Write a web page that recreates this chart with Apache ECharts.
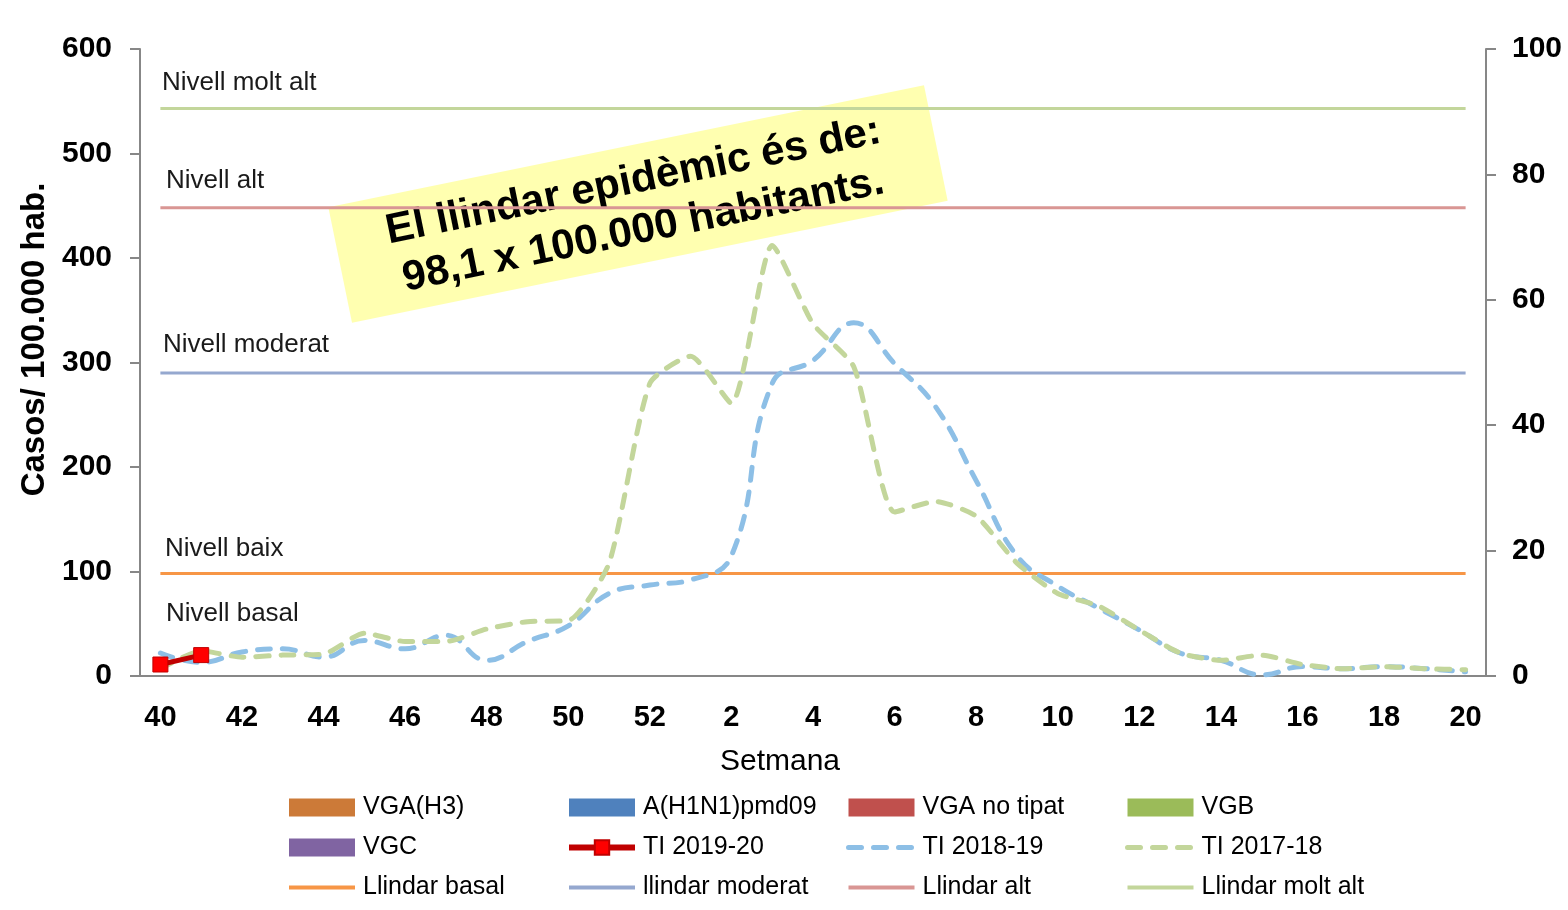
<!DOCTYPE html>
<html>
<head>
<meta charset="utf-8">
<script src="https://cdn.jsdelivr.net/npm/echarts@6.0.0/dist/echarts.min.js"></script>
<style>
  html, body { margin: 0; padding: 0; background: #fff; }
  #chart { width: 1568px; height: 910px; }
</style>
</head>
<body>
<div id="chart"></div>
<script>
// setmanes epidemiologiques (40..52, 1..20)
const weeks = ['40', '41', '42', '43', '44', '45', '46', '47', '48', '49', '50', '51', '52',
  '1', '2', '3', '4', '5', '6', '7', '8', '9', '10', '11', '12', '13', '14', '15', '16', '17', '18', '19', '20']

// taxes d'incidencia (casos / 100.000 hab.)
const ti201920 = [11, 20]
const ti201819 = [22, 13, 23, 26, 18, 34, 26, 39, 15, 33, 48, 79, 87,
  92, 115, 280, 302, 338, 299, 258, 187, 115, 86, 65, 44, 22, 15, 1, 9, 7, 9, 7, 4]
const ti201718 = [7, 24, 18, 20, 21, 41, 33, 33, 45, 52, 53, 108, 280,
  306, 261, 412, 337, 296, 157, 167, 153, 108, 79, 67, 44, 22, 15, 20, 11, 7, 9, 7, 6]

// virus detectats (eix dret) - sense deteccions encara
const vgaH3 = []
const ah1n1 = []
const vgaNoTipat = []
const vgb = []
const vgc = []

// llindars
const llindarBasal = 98.1
const llindarModerat = 290
const llindarAlt = 448
const llindarMoltAlt = 543

const FONT = 'Liberation Sans, Arial, sans-serif'
const AXIS_COLOR = '#878787'

const chart = echarts.init(document.getElementById('chart'))

function nivellMark(items) {
  return {
    symbol: 'circle',
    symbolSize: 1,
    silent: true,
    itemStyle: { color: 'transparent' },
    label: {
      show: true,
      position: 'right',
      distance: 0,
      color: '#1a1a1a',
      fontFamily: FONT,
      fontSize: 26
    },
    data: items.map(it => ({
      coord: [weeks[0], it.value],
      label: { formatter: it.text, offset: it.offset }
    }))
  }
}

function llindar(name, value, color, marks) {
  return {
    name: name,
    type: 'line',
    data: weeks.map(() => value),
    symbol: 'none',
    z: 1,
    silent: true,
    lineStyle: { color: color, width: 3 },
    itemStyle: { color: color },
    markPoint: nivellMark(marks)
  }
}

function virus(name, data, color) {
  return {
    name: name,
    type: 'bar',
    stack: 'virus',
    yAxisIndex: 1,
    data: data,
    itemStyle: { color: color }
  }
}

// entrades de llegenda
const barItem = name => ({ name: name, icon: 'rect' })
const lineItem = (name, width) => ({ name: name, itemStyle: { color: 'rgba(0,0,0,0)', opacity: 0 }, lineStyle: { width: width } })

const legendBase = {
  orient: 'vertical',
  top: 790,
  height: 130,
  itemWidth: 66,
  itemHeight: 18,
  itemGap: 15,
  selectedMode: false,
  textStyle: { fontFamily: FONT, fontSize: 25, color: '#000', padding: [0, 0, 0, 3] }
}

chart.setOption({
  animation: false,
  backgroundColor: '#fff',
  grid: { left: 140, right: 82, top: 49, bottom: 234 },
  legend: [
    Object.assign({}, legendBase, { left: 282, data: [barItem('VGA(H3)'), barItem('VGC'), lineItem('Llindar basal', 4)] }),
    Object.assign({}, legendBase, { left: 561, data: [barItem('A(H1N1)pmd09'), { name: 'TI 2019-20', lineStyle: { width: 6 } }, lineItem('llindar moderat', 4)] }),
    Object.assign({}, legendBase, { left: 841, data: [barItem('VGA no tipat'), lineItem('TI 2018-19', 5), lineItem('Llindar alt', 4)] }),
    Object.assign({}, legendBase, { left: 1120, data: [barItem('VGB'), lineItem('TI 2017-18', 5), lineItem('Llindar molt alt', 4)] })
  ],
  xAxis: {
    type: 'category',
    data: weeks,
    boundaryGap: true,
    name: 'Setmana',
    nameLocation: 'middle',
    nameGap: 71,
    nameTextStyle: { fontFamily: FONT, fontSize: 30, color: '#000', padding: [0, 66, 0, 0] },
    axisLine: { lineStyle: { color: AXIS_COLOR, width: 2 } },
    axisTick: { interval: 0, length: 10, lineStyle: { color: AXIS_COLOR, width: 2 } },
    axisLabel: { interval: 1, margin: 27, fontFamily: FONT, fontSize: 29, fontWeight: 'bold', color: '#000' }
  },
  yAxis: [
    {
      type: 'value',
      min: 0,
      max: 600,
      interval: 100,
      name: 'Casos/ 100.000 hab.',
      nameLocation: 'middle',
      nameGap: 88,
      nameTextStyle: { fontFamily: FONT, fontSize: 33, fontWeight: 'bold', color: '#000', padding: [0, 0, 0, 46] },
      axisLine: { show: true, lineStyle: { color: AXIS_COLOR, width: 2 } },
      axisTick: { show: true, length: 10, lineStyle: { color: AXIS_COLOR, width: 2 } },
      axisLabel: { margin: 28, fontFamily: FONT, fontSize: 30, fontWeight: 'bold', color: '#000' },
      splitLine: { show: false }
    },
    {
      type: 'value',
      position: 'right',
      min: 0,
      max: 100,
      interval: 20,
      axisLine: { show: true, lineStyle: { color: AXIS_COLOR, width: 2 } },
      axisTick: { show: true, length: 10, lineStyle: { color: AXIS_COLOR, width: 2 } },
      axisLabel: { margin: 26, fontFamily: FONT, fontSize: 30, fontWeight: 'bold', color: '#000' },
      splitLine: { show: false }
    }
  ],
  series: [
    virus('VGA(H3)', vgaH3, '#CC7A38'),
    virus('A(H1N1)pmd09', ah1n1, '#4F81BD'),
    virus('VGA no tipat', vgaNoTipat, '#C0504D'),
    virus('VGB', vgb, '#9BBB59'),
    virus('VGC', vgc, '#8064A2'),
    llindar('Llindar basal', llindarBasal, '#F79646', [
      { value: llindarBasal, text: 'Nivell baix', offset: [4, -25] },
      { value: llindarBasal, text: 'Nivell basal', offset: [5, 40] }
    ]),
    llindar('llindar moderat', llindarModerat, '#95A8CF', [
      { value: llindarModerat, text: 'Nivell moderat', offset: [2, -28] }
    ]),
    llindar('Llindar alt', llindarAlt, '#D99694', [
      { value: llindarAlt, text: 'Nivell alt', offset: [5, -27] }
    ]),
    llindar('Llindar molt alt', llindarMoltAlt, '#C3D69B', [
      { value: llindarMoltAlt, text: 'Nivell molt alt', offset: [1, -26] }
    ]),
    {
      name: 'TI 2018-19',
      type: 'line',
      data: ti201819,
      smooth: 0.45,
      symbol: 'none',
      z: 3,
      lineStyle: { color: '#8DBFE6', width: 5, type: [13, 12], cap: 'round' },
      itemStyle: { color: '#8DBFE6' }
    },
    {
      name: 'TI 2017-18',
      type: 'line',
      data: ti201718,
      smooth: 0.2,
      symbol: 'none',
      z: 3,
      lineStyle: { color: '#C3D69B', width: 5, type: [13, 12], cap: 'round' },
      itemStyle: { color: '#C3D69B' }
    },
    {
      name: 'TI 2019-20',
      type: 'line',
      data: ti201920,
      symbol: 'rect',
      symbolSize: 15,
      z: 4,
      lineStyle: { color: '#C00000', width: 5 },
      itemStyle: { color: '#FF0000', borderColor: '#C00000', borderWidth: 1 }
    }
  ],
  graphic: [
    {
      type: 'group',
      x: 638,
      y: 204,
      rotation: 0.202,
      z: 100,
      children: [
        {
          type: 'rect',
          shape: { x: -304, y: -59, width: 608, height: 118 },
          style: { fill: 'rgba(255,255,150,0.75)' }
        },
        {
          type: 'text',
          x: 0,
          y: 2,
          style: {
            text: 'El llindar epidèmic és de:\n98,1 x 100.000 habitants.',
            font: 'bold 42px Liberation Sans',
            fill: '#000',
            align: 'center',
            verticalAlign: 'middle',
            textAlign: 'center',
            textVerticalAlign: 'middle',
            lineHeight: 50
          }
        }
      ]
    }
  ]
})
</script>
</body>
</html>
